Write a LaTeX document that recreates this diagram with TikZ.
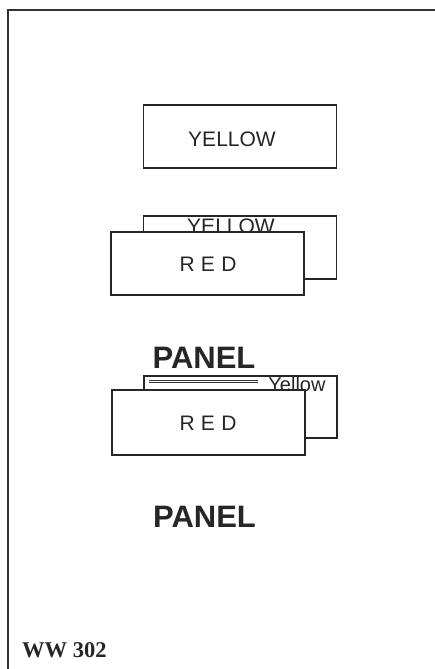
\documentclass[tikz,border=0pt]{standalone}
\usepackage{fontspec}
\setmainfont{Liberation Sans}
\newfontfamily\wwfont{Liberation Serif}
\begin{document}
\begin{tikzpicture}[x=1pt,y=-1pt,
  panelbox/.style={draw=black!85,line width=1.4pt,fill=white,rectangle,inner sep=0pt,minimum width=193pt,minimum height=63pt},
  lbl/.style={inner sep=0pt,anchor=base,text=black!85},
  boxtext/.style={lbl,font=\fontsize{21pt}{22pt}\selectfont},
  redtext/.style={lbl,font=\fontsize{21pt}{22pt}\selectfont},
  paneltext/.style={lbl,font=\fontsize{31pt}{32pt}\selectfont\bfseries},
  frame/.style={draw=black!80,line width=2pt},
  stripe/.style={draw=black!80,line width=1.4pt}]
\useasboundingbox (0,0) rectangle (435,669);
% frame
\coordinate (ftr) at (435,10);
\coordinate (ftl) at (7.5,10);
\coordinate (fbl) at (7.5,669);
\draw[frame] (ftr) -- (ftl) -- (fbl);
% first yellow panel
\node[panelbox] (y1) at (240,136.5) {};
\node[boxtext] (y1t) at (232,146.5) {YELLOW};
% second group
\node[panelbox] (y2) at (240,247.5) {};
\node[boxtext] (y2t) at (231,233) {YELLOW};
\node[panelbox] (r2) at (207.5,263.5) {};
\node[redtext] (r2t) at (208,271) {R\hspace{0.3em}E\hspace{0.3em}D};
\node[paneltext] (p1) at (204,368) {PANEL};
% third group
\node[panelbox,minimum height=62pt] (y3) at (240.5,407) {};
\coordinate (dl1) at (149,380.4);
\coordinate (dl2) at (258,380.4);
\coordinate (dl3) at (149,382.8);
\coordinate (dl4) at (258,382.8);
\draw[stripe] (dl1) -- (dl2);
\draw[stripe,line width=1.2pt] (dl3) -- (dl4);
\node[lbl,font=\fontsize{20pt}{21pt}\selectfont] (y3t) at (297,391.5) {Yellow};
\node[panelbox,minimum height=65pt] (r3) at (208.5,422.5) {};
\node[redtext] (r3t) at (208,430) {R\hspace{0.3em}E\hspace{0.3em}D};
\node[paneltext] (p2) at (204.5,527) {PANEL};
% label
\node[inner sep=0pt,anchor=base west,text=black!85,font=\wwfont\fontsize{22.5pt}{23pt}\selectfont\bfseries] (ww) at (22,657) {WW 302};
\end{tikzpicture}
\end{document}
